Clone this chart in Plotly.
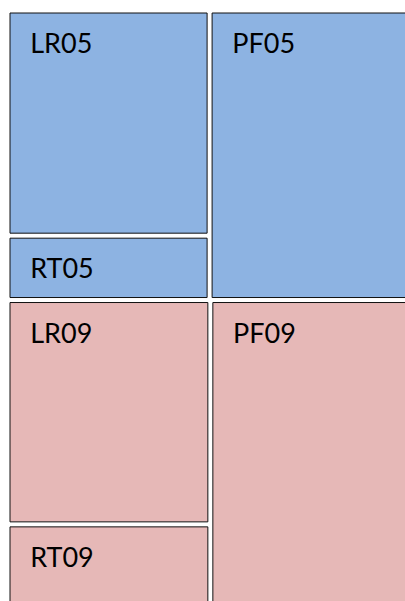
import plotly.graph_objects as go

# ---- data -------------------------------------------------------------
groups = ["05", "09"]
leaf_labels = ["LR05", "RT05", "PF05", "LR09", "RT09", "PF09"]
leaf_values = [11.2, 3.2, 14.6, 11.2, 4.4, 15.7]
leaf_column = ["C05", "C05", "G05", "C09", "C09", "G09"]   # parent of each leaf
group_colors = {"05": "#8DB3E2", "09": "#E6B8B7"}

# ---- hierarchy --------------------------------------------------------
ids, labels, parents, values, colors, lw, tt = [], [], [], [], [], [], []
for g in groups:
    gid, cid = "G" + g, "C" + g
    col_total = sum(v for v, p in zip(leaf_values, leaf_column) if p == cid)
    grp_total = sum(v for v, p in zip(leaf_values, leaf_column) if p in (gid, cid))
    ids += [gid, cid]
    labels += ["g" + g, "c" + g]
    parents += ["", gid]
    values += [grp_total, col_total]
    colors += ["rgba(255,255,255,0)", "rgba(255,255,255,0)"]
    lw += [0, 0]
    tt += [" ", " "]
for lab, v, p in zip(leaf_labels, leaf_values, leaf_column):
    ids.append(lab)
    labels.append(lab)
    parents.append(p)
    values.append(v)
    colors.append(group_colors[lab[-2:]])
    lw.append(1)
    tt.append("<span style='font-size:2px'>\u00a0</span><br>\u00a0\u00a0\u2009%{label}")

W, H = 412, 610
fig = go.Figure(go.Treemap(
    ids=ids, labels=labels, parents=parents, values=values,
    branchvalues="total", sort=False,
    marker=dict(colors=colors, line=dict(color="#111111", width=lw),
                pad=dict(t=0, l=0, r=0, b=0)),
    tiling=dict(packing="dice-slice", pad=5),
    pathbar=dict(visible=False),
    texttemplate=tt, textposition="top left",
    textfont=dict(family="Lato", size=27, color="#000000"),
    hoverinfo="skip",
    domain=dict(x=[10 / W, 1], y=[0, 1 - 13 / H]),
))
fig.update_layout(width=W, height=H, margin=dict(l=0, r=0, t=0, b=0),
                  paper_bgcolor="white", showlegend=False)
fig.write_html(
    "out.html",
    config={"displayModeBar": False},
    post_script=("document.body.style.margin='0';"
                 "document.body.style.overflow='hidden';"
                 "document.documentElement.style.overflow='hidden';"),
)
